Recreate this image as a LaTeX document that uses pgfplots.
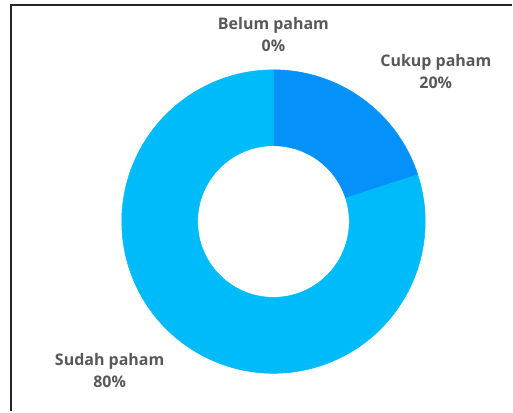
\documentclass[border=0pt]{standalone}
\usepackage{pgfplots}
\pgfplotsset{compat=1.18}
\usepackage{pgfplotstable}
\usepackage{fontspec}
\setmainfont{Open Sans}
\definecolor{cukup}{RGB}{4,145,250}
\definecolor{sudah}{RGB}{0,187,249}
\definecolor{txtgray}{RGB}{88,88,88}

\pgfplotstableread{
name value
Belum 0
Cukup 20
Sudah 80
}\datatable

\def\angacc{90}
\pgfplotsforeachungrouped \i in {0,1,2}{%
  \pgfplotstablegetelem{\i}{value}\of\datatable
  \pgfmathsetmacro\startang{\angacc}%
  \pgfmathsetmacro\angacc{\angacc-3.6*\pgfplotsretval}%
  \expandafter\xdef\csname sa\i\endcsname{\startang}%
  \expandafter\xdef\csname ea\i\endcsname{\angacc}%
}

\newcommand\slice[2]{%
  \edef\sA{\csname sa#1\endcsname}\edef\eA{\csname ea#1\endcsname}%
  \edef\temp{\noexpand\filldraw[fill=#2, draw=#2, line width=0.4pt] (axis cs:{cos(\sA)},{sin(\sA)}) arc[start angle=\sA, end angle=\eA, radius=1]
    -- (axis cs:{0.5*cos(\eA)},{0.5*sin(\eA)}) arc[start angle=\eA, end angle=\sA, radius=0.5] -- cycle;}%
  \temp
}

\begin{document}
\begin{tikzpicture}
\begin{axis}[
  x=114pt, y=114pt,
  xmin=-1.8026, xmax=1.5724,
  ymin=-1.25, ymax=1.4605,
  hide axis, clip=false, scale only axis,
]
\path (rel axis cs:0,0) rectangle (rel axis cs:1,1);
\slice{1}{cukup}
\slice{2}{sudah}
\draw[line width=1.5pt, black!85] (axis cs:-1.730,-1.25) -- (axis cs:-1.730,1.4276) -- (axis cs:1.5724,1.4276);
\begin{scope}[every node/.style={align=center, text=txtgray, font=\bfseries\fontsize{12}{16.5}\selectfont}]
\node at (axis cs:0,1.23) {Belum paham\\0\%};
\node at (axis cs:1.07,0.99) {Cukup paham\\20\%};
\node at (axis cs:-1.08,-0.98) {Sudah paham\\80\%};
\end{scope}
\end{axis}
\end{tikzpicture}
\end{document}
